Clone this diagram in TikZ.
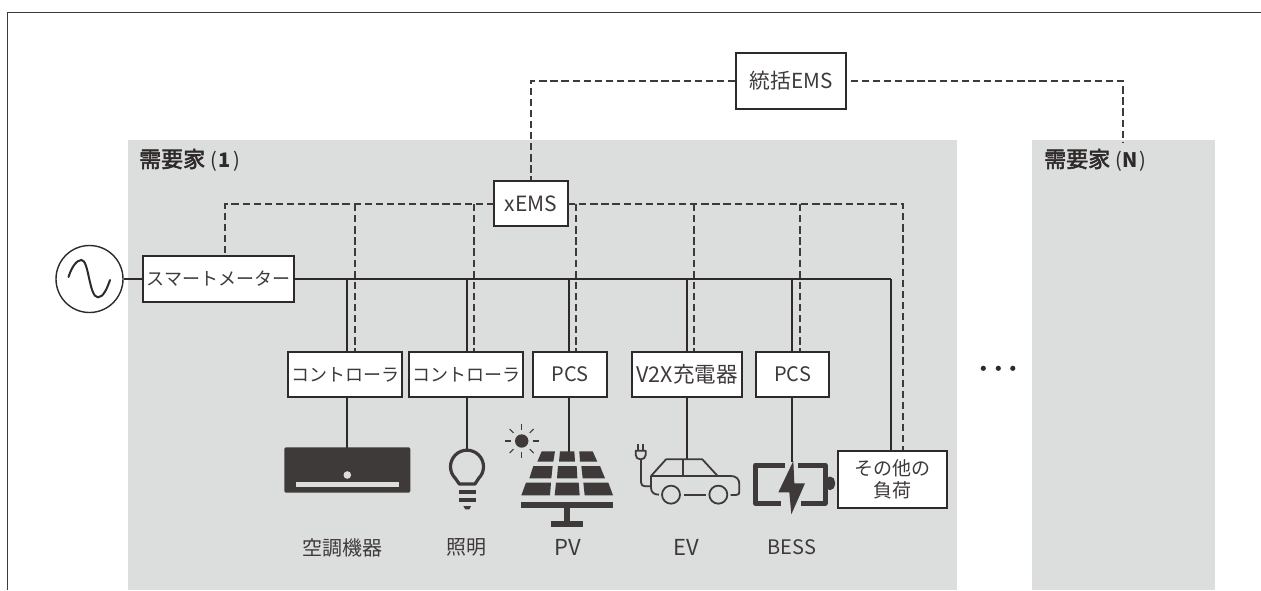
\documentclass[tikz,border=0pt]{standalone}
\usepackage{fontspec}
\usetikzlibrary{calc}
\setmainfont{Noto Sans CJK JP}
\definecolor{ink}{HTML}{3E3A39}
\definecolor{wire}{HTML}{2E2A29}
\definecolor{panel}{HTML}{DCDDDD}
\newcommand{\fs}[1]{\fontsize{#1}{22}\selectfont}
\newcommand{\heavier}[1]{\special{pdf:code 2 Tr 0.55 w}#1\special{pdf:code 0 Tr 1 w}}
\tikzset{
  solidwire/.style={draw=wire,line width=1.5pt},
  buswire/.style={draw=wire,line width=1.9pt},
  dashwire/.style={draw=ink,line width=1.5pt,dash pattern=on 7.3pt off 3.8pt},
  devbox/.style={draw=wire,fill=white,line width=1.5pt,inner sep=0pt,text=ink,font=\fs{19},align=center},
  caption/.style={text=ink,inner sep=0pt,font=\fs{20}},
  grouplabel/.style={text=wire,inner sep=0pt,anchor=west,font=\fs{22}},
  icon/.style={fill=ink,draw=none},
  iconline/.style={draw=ink,line width=1.8pt,line join=round},
  zoomA/.style={x=0.33333pt,y=-0.33333pt}
}
\begin{document}
\begin{tikzpicture}[x=1pt,y=-1pt]
\useasboundingbox (0,0) rectangle (1261,590);
% panels and frame
\fill[panel] (128,140) rectangle (957,590);
\fill[panel] (1032,140) rectangle (1215,590);
\draw[draw=ink,line width=1pt] (7.5,590) -- (7.5,12.5) -- (1261,12.5);
\node[grouplabel] (g1) at (139,160) {\heavier{需要家}\hspace{5pt}{\fs{20}(\hspace{2pt}\textbf{1}\hspace{2pt})}};
\node[grouplabel] (gN) at (1044,160) {\heavier{需要家}\hspace{5pt}{\fs{20}(\hspace{1pt}\textbf{N}\hspace{1pt})}};
% nodes
\node[devbox,minimum width=110pt,minimum height=56pt,font=\fs{20.7}] (top) at (791,81) {統括EMS};
\node[devbox,minimum width=74pt,minimum height=45pt,font=\fs{21}] (xems) at (531,203.5) {xEMS};
\node[devbox,minimum width=151pt,minimum height=46pt,font=\fs{18}] (meter) at (218.5,279) {スマートメーター};
\node[devbox,minimum width=114pt,minimum height=45pt,font=\fs{18}] (c1) at (345,374.5) {コントローラ};
\node[devbox,minimum width=114pt,minimum height=45pt,font=\fs{18}] (c2) at (466,374.5) {コントローラ};
\node[devbox,minimum width=74pt,minimum height=45pt,font=\fs{20}] (pcs1) at (570,374.5) {PCS};
\node[devbox,minimum width=110pt,minimum height=45pt,font=\fs{21.5}] (v2x) at (687,374.5) {V2X充電器};
\node[devbox,minimum width=73pt,minimum height=45pt,font=\fs{20}] (pcs2) at (792.5,374.5) {PCS};
\node[devbox,minimum width=109pt,minimum height=57pt] (other) at (892.5,479.5) {その他の\\負荷};
\node[circle,draw=wire,line width=1.4pt,minimum size=67pt,inner sep=0pt] (ac) at (89.5,279) {};
% junction coordinates
\coordinate (bS1) at (347,279);
\coordinate (bS2) at (467,279);
\coordinate (bS3) at (569,279);
\coordinate (bS4) at (687,279);
\coordinate (bS5) at (792,279);
\coordinate (bS6) at (891,279);
\coordinate (dD0) at (225,204);
\coordinate (dD1) at (355,204);
\coordinate (dD2) at (474,204);
\coordinate (dD3) at (576,204);
\coordinate (dD4) at (694,204);
\coordinate (dD5) at (800,204);
\coordinate (dD6) at (903,204);
\coordinate (xL) at (494,204);
\coordinate (xR) at (568,204);
\coordinate (tL) at (531,81);
\coordinate (tR) at (1123,81);
\coordinate (tN) at (1123,142);
\coordinate (acunit) at (347,448);
\coordinate (bulb) at (467,450);
\coordinate (panelTop) at (569,452);
\coordinate (carTop) at (687,460);
\coordinate (batTop) at (792,462);
% solid wires
\draw[buswire] (ac.east) -- (meter.west);
\draw[buswire] (meter.east) -- (bS6);
\draw[solidwire] (bS6) -- (bS6 |- other.north);
\foreach \j/\b in {bS1/c1,bS2/c2,bS3/pcs1,bS4/v2x,bS5/pcs2}
  \draw[solidwire] (\j) -- (\j |- \b.north);
\draw[solidwire] (c1.south -| bS1) -- (acunit);
\draw[solidwire] (c2.south -| bS2) -- (bulb);
\draw[solidwire] (pcs1.south -| bS3) -- (panelTop);
\draw[solidwire] (v2x.south -| bS4) -- (carTop);
\draw[solidwire] (pcs2.south -| bS5) -- (batTop);
% dashed wires
\draw[dashwire] (top.west |- tL) -- (tL) -- (xems.north);
\draw[dashwire] ([xshift=4pt]top.east) -- (tR) -- (tN);
\draw[dashwire] (xL) -- (dD0) -- (dD0 |- meter.north);
\draw[dashwire] (dD1) -- (dD1 |- c1.north);
\draw[dashwire] (dD2) -- (dD2 |- c2.north);
\draw[dashwire] (xR) -- (dD6) -- (dD6 |- other.north);
\draw[dashwire] (dD3) -- (dD3 |- pcs1.north);
\draw[dashwire] (dD4) -- (dD4 |- v2x.north);
\draw[dashwire] (dD5) -- (dD5 |- pcs2.north);
% AC source sine
\draw[draw=wire,line width=2pt,line cap=round] (68.5,277) .. controls (72,266) and (77,260) .. (81.5,260) .. controls (89,260) and (89,297.3) .. (98,297.3) .. controls (103,297.3) and (107,289) .. (110,280);
% air conditioner
\fill[icon,rounded corners=2pt] (284.3,447.3) rectangle (410.3,492.7);
\fill[panel] (347.3,475) circle (3.8pt);
\fill[panel] (295.7,482.3) rectangle (399,487.3);
% bulb
\begin{scope}[shift={(440,440)},zoomA]
  \draw[draw=ink,line width=3.2pt,line join=round] (116,115) arc[start angle=45,end angle=-225,radius=49.5] -- (58,132) -- (105,132) -- cycle;
  \fill[icon] (57,150) rectangle (108,162);
  \fill[icon] (57,174) rectangle (108,186);
  \fill[icon] (70,198) -- (93,198) -- (88,208) -- (76,208) -- cycle;
\end{scope}
% solar panel
\begin{scope}[shift={(490,390)},zoomA]
  \fill[icon] (155,184) -- (195,184) -- (190,215) -- (142,215) -- cycle;
  \fill[icon] (210,184) -- (253,184) -- (255,215) -- (207,215) -- cycle;
  \fill[icon] (268,184) -- (308,184) -- (322,215) -- (270,215) -- cycle;
  \fill[icon] (130,228) -- (188,228) -- (184,265) -- (118,265) -- cycle;
  \fill[icon] (204,228) -- (260,228) -- (262,265) -- (201,265) -- cycle;
  \fill[icon] (274,228) -- (330,228) -- (345,265) -- (278,265) -- cycle;
  \fill[icon] (108,278) -- (183,278) -- (180,316) -- (94,316) -- cycle;
  \fill[icon] (198,278) -- (266,278) -- (269,316) -- (194,316) -- cycle;
  \fill[icon] (280,278) -- (355,278) -- (369,316) -- (284,316) -- cycle;
  \fill[icon] (93,336) rectangle (370,353);
  \fill[icon] (223,353) rectangle (241,393);
  \fill[icon] (184,393) rectangle (278,410);
\end{scope}
% sun
\fill[icon] (521.7,441) circle (6.7pt);
\foreach \a/\p/\q in {0/11/17,90/11/17,180/11/17,270/11/17,45/11.5/17,135/11.5/17,225/11.5/17,315/11.5/17}
  \draw[draw=ink,line width=1.1pt] ($(521.7,441)+(\a:\p pt)$) -- ($(521.7,441)+(\a:\q pt)$);
% car
\begin{scope}[shift={(630,435)},zoomA]
  \draw[iconline] (123,179) circle (27);
  \draw[iconline] (265,179) circle (27);
  \draw[iconline] (162,179) -- (228,179);
  \draw[iconline] (302,180) -- (318,180) .. controls (326,180) and (328,176) .. (328,170) -- (328,147) .. controls (328,132) and (318,123) .. (303,123) -- (63,123);
  \draw[iconline] (63,123) -- (108,73) -- (217,73) -- (263,123);
  \draw[iconline] (158,73) -- (158,123);
  \draw[iconline] (63,123) -- (63,158) .. controls (63,172) and (72,179) .. (87,179);
  \draw[iconline] (33,75) -- (33,142) .. controls (33,150) and (38,154) .. (46,154) -- (63,154);
  \draw[iconline] (17,47) -- (47,47) -- (47,60) .. controls (47,68) and (40,73) .. (32,73) .. controls (24,73) and (17,68) .. (17,60) -- cycle;
  \draw[iconline] (24,26) -- (24,47);
  \draw[iconline] (40,26) -- (40,47);
\end{scope}
% battery
\begin{scope}[shift={(745,445)},zoomA]
  \draw[draw=ink,line width=5pt,line join=round] (120,60) -- (32,60) -- (32,175) -- (108,175);
  \draw[draw=ink,line width=5pt,line join=round] (158,60) -- (240,60) -- (240,175) -- (168,175);
  \fill[icon,rounded corners=2pt] (248,95) -- (262,95) -- (270,105) -- (270,125) -- (262,135) -- (248,135) -- cycle;
  \fill[icon] (145,48) -- (100,142) -- (133,142) -- (139,208) -- (180,115) -- (148,115) -- cycle;
\end{scope}
% captions
\node[caption] (cap1) at (342.5,547.5) {空調機器};
\node[caption] (cap2) at (466.7,547.5) {照明};
\node[caption,font=\fs{22}] (cap3) at (568,547.5) {PV};
\node[caption,font=\fs{22}] (cap4) at (686.7,547.5) {EV};
\node[caption] (cap5) at (792,547.5) {BESS};
% ellipsis
\foreach \n/\x in {e1/983.3,e2/998.3,e3/1012.8}
  \node[circle,fill=wire,inner sep=0pt,minimum size=5.2pt] (\n) at (\x,368.3) {};
\end{tikzpicture}
\end{document}
